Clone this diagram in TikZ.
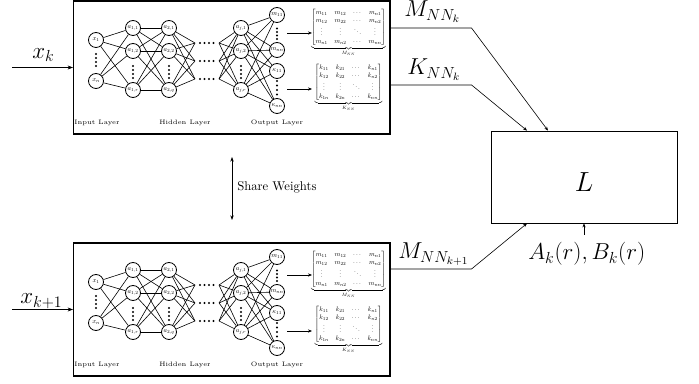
\documentclass[tikz,border=0pt]{standalone}
\usepackage{amsmath}
\usepackage{graphicx}
\usetikzlibrary{arrows.meta}

\newcommand{\smm}[1]{\scalebox{0.5}{$#1$}}
\newcommand{\matM}{\scalebox{0.5}{$\underbrace{\begin{bmatrix}
 m_{11} & m_{12} & \cdots & m_{n1}\\
 m_{12} & m_{22} & \cdots & m_{n2}\\
 \vdots & \vdots & \ddots & \vdots\\
 m_{n1} & m_{n2} & \cdots & m_{nn}
 \end{bmatrix}}_{M_{NN}}$}}
\newcommand{\matK}{\scalebox{0.5}{$\underbrace{\begin{bmatrix}
 k_{11} & k_{21} & \cdots & k_{n1}\\
 k_{12} & k_{22} & \cdots & k_{n2}\\
 \vdots & \vdots & \ddots & \vdots\\
 k_{1n} & k_{2n} & \cdots & k_{nn}
 \end{bmatrix}}_{K_{NN}}$}}

\tikzset{
 neuron/.style={circle,draw,line width=0.6pt,minimum size=11.25pt,inner sep=0pt},
 conn/.style={line width=0.45pt},
 netbox/.style={draw,line width=0.8pt,minimum width=237.4pt,minimum height=99.75pt,inner sep=0pt},
 biglabel/.style={font=\fontsize{16.5}{20}\selectfont,inner sep=0pt},
 layerlabel/.style={font=\fontsize{4.8}{6}\selectfont,inner sep=0pt},
 flow/.style={line width=0.5pt,-{Stealth[length=4pt,width=3pt]}},
 thin flow/.style={line width=0.45pt,-{Stealth[length=3pt,width=2.4pt]}},
 lbox/.style={draw,line width=0.6pt,minimum width=139.5pt,minimum height=69pt,inner sep=0pt},
 dotfill/.style={fill=black},
 nnet/.pic={
  \node[netbox] (-box) at (231.75,67.5) {};
  % input layer
  \node[neuron] (-x1) at (96,40) {\smm{x_1}};
  \node[neuron] (-xn) at (96,81) {\smm{x_n}};
  % hidden layer 1
  \node[neuron] (-a11) at (133,28) {\smm{a_{1,1}}};
  \node[neuron] (-a12) at (133,51) {\smm{a_{1,2}}};
  \node[neuron] (-a1r) at (133,90) {\smm{a_{1,r}}};
  % hidden layer 2
  \node[neuron] (-a21) at (169,28) {\smm{a_{2,1}}};
  \node[neuron] (-a22) at (169,51) {\smm{a_{2,2}}};
  \node[neuron] (-a2q) at (169,90) {\smm{a_{2,q}}};
  % hidden layer j
  \node[neuron] (-aj1) at (241,28) {\smm{a_{j,1}}};
  \node[neuron] (-aj2) at (241,51) {\smm{a_{j,2}}};
  \node[neuron] (-ajr) at (241,90) {\smm{a_{j,r}}};
  % outputs
  \node[neuron] (-m11) at (277,15) {\smm{m_{11}}};
  \node[neuron] (-mnn) at (277,50) {\smm{m_{nn}}};
  \node[neuron] (-k11) at (277,71) {\smm{\kappa_{11}}};
  \node[neuron] (-knn) at (277,106) {\smm{\kappa_{nn}}};
  % dot rows
  \coordinate (-d1L) at (195,43); \coordinate (-d1R) at (219,43);
  \coordinate (-d2L) at (195,61); \coordinate (-d2R) at (219,61);
  \coordinate (-d3L) at (195,79); \coordinate (-d3R) at (219,79);
  \foreach \yy in {43,61,79}{
    \foreach \xx in {200,204.5,209,213.5}{\fill[dotfill] (\xx,\yy) circle (0.9pt);}
  }
  % vertical dots
  \foreach \yy in {54,58,62,66}{\fill[dotfill] (96,\yy) circle (0.9pt);}
  \foreach \xx in {133,169,241}{
    \foreach \yy in {66,70,74,78}{\fill[dotfill] (\xx,\yy) circle (0.9pt);}
  }
  \foreach \yy in {28.5,32,35.5,39}{\fill[dotfill] (277,\yy) circle (0.9pt);}
  \foreach \yy in {81,85.5,90,94.5}{\fill[dotfill] (277,\yy) circle (0.9pt);}
  % connections
  \foreach \s in {x1,xn}{\foreach \t in {a11,a12,a1r}{\draw[conn] (-\s) -- (-\t);}}
  \foreach \s in {a11,a12,a1r}{\foreach \t in {a21,a22,a2q}{\draw[conn] (-\s) -- (-\t);}}
  \foreach \s in {a21,a22,a2q}{\foreach \t in {d1L,d2L,d3L}{\draw[conn] (-\s) -- (-\t);}}
  \foreach \s in {d1R,d2R,d3R}{\foreach \t in {aj1,aj2,ajr}{\draw[conn] (-\s) -- (-\t);}}
  \foreach \s in {aj1,aj2,ajr}{\foreach \t in {m11,mnn,k11,knn}{\draw[conn] (-\s) -- (-\t);}}
  % matrices
  \node[inner sep=0pt,anchor=north] (-Mmat) at (348.5,9) {\matM};
  \node[inner sep=0pt,anchor=north] (-Kmat) at (348.5,64) {\matK};
  \coordinate (-o1) at (287,33); \coordinate (-i1) at (312,33);
  \coordinate (-o2) at (287,89); \coordinate (-i2) at (312,89);
  \draw[thin flow] (-o1) -- (-i1);
  \draw[thin flow] (-o2) -- (-i2);
  % layer labels
  \node[layerlabel] (-lin) at (97,123) {Input Layer};
  \node[layerlabel] (-lhid) at (185,123) {Hidden Layer};
  \node[layerlabel] (-lout) at (277,123) {Output Layer};
 }
}

\begin{document}
\begin{tikzpicture}[x=0.75pt,y=-0.75pt]
\useasboundingbox (0,0) rectangle (699,384);
\pic (T) at (0,0) {nnet};
\pic (B) at (0,242) {nnet};

% inputs
\coordinate (xinT) at (12,67.5);
\coordinate (xinB) at (12,309.5);
\draw[flow] (xinT) -- (T-box.west);
\draw[flow] (xinB) -- (B-box.west);
\node[biglabel,anchor=base west] (xk) at (32,58.3) {$x_k$};
\node[biglabel,anchor=base west] (xk1) at (20,304) {$x_{k+1}$};

% share weights
\coordinate (swT) at (232,157);
\coordinate (swB) at (232,220);
\draw[line width=0.5pt,{Stealth[length=3.5pt,width=2.6pt]}-{Stealth[length=3.5pt,width=2.6pt]}] (swT) -- (swB);
\node[anchor=west,inner sep=0pt,font=\fontsize{9.5}{11}\selectfont] (sw) at (237,187) {Share Weights};

% loss box
\node[lbox] (L) at (584,177) {};
\node[font=\fontsize{20}{24}\selectfont,inner sep=0pt] (Lt) at (584,182.5) {$L$};

\draw[thin flow] ([yshift=29.6pt]T-box.east) -- ++(81,0) -- ([xshift=-27pt]L.north);
\draw[thin flow] ([yshift=-13.1pt]T-box.east) -- ++(81,0) -- ([xshift=-42.75pt]L.north);
\draw[thin flow] ([yshift=30.4pt]B-box.east) -- ++(81,0) -- ([xshift=-42.75pt]L.south);
\node[biglabel,anchor=base west] (lm1) at (404,17) {$M_{NN_k}$};
\node[biglabel,anchor=base west] (lk1) at (407,75) {$K_{NN_k}$};
\node[biglabel,anchor=base west] (lm2) at (398,259) {$M_{NN_{k+1}}$};

\node[biglabel,anchor=base west] (ab) at (528,260) {$A_k(r),B_k(r)$};
\coordinate (abT) at (584,235);
\draw[thin flow] (abT) -- (L.south);
\end{tikzpicture}
\end{document}
